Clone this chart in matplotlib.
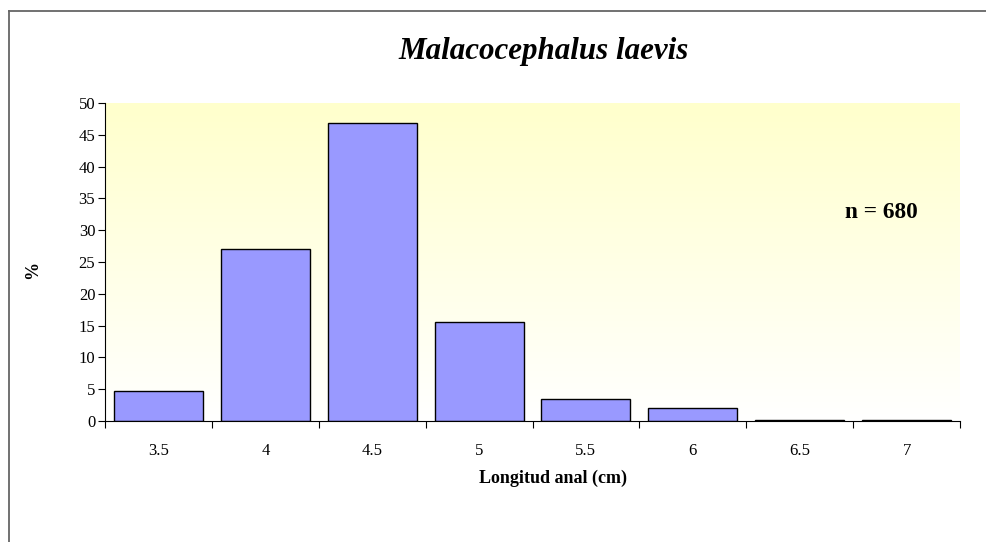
import numpy as np
import matplotlib.pyplot as plt
from matplotlib.lines import Line2D

categories = ["3.5", "4", "4.5", "5", "5.5", "6", "6.5", "7"]
percent = [4.7, 27.0, 46.9, 15.6, 3.4, 2.1, 0.15, 0.15]
y_ticks = [0, 5, 10, 15, 20, 25, 30, 35, 40, 45, 50]

plt.rcParams['font.family'] = ['Liberation Serif', 'DejaVu Serif']

W, H = 986, 542
fig = plt.figure(figsize=(W / 100, H / 100), dpi=100)
fig.patch.set_facecolor('white')

# frame edges of the chart area (left and top)
fig.add_artist(Line2D([8.5 / W, 8.5 / W], [0, 1 - 11 / H], transform=fig.transFigure,
                      color='#666666', linewidth=1.3))
fig.add_artist(Line2D([8.5 / W, 1], [1 - 11 / H, 1 - 11 / H], transform=fig.transFigure,
                      color='#666666', linewidth=1.3))

left, right, top, bottom = 105, 960, 103, 421
ax = fig.add_axes([left / W, 1 - bottom / H, (right - left) / W, (bottom - top) / H])

n = len(categories)
x = np.arange(n)
ax.set_xlim(-0.5, n - 0.5)
ax.set_ylim(0, 50)

# vertical gradient: pale yellow at top to white at bottom
grad = np.linspace(0, 1, 256).reshape(-1, 1)
top_col = np.array([1.0, 1.0, 0.80])
bot_col = np.array([1.0, 1.0, 1.0])
img = bot_col[None, None, :] * (1 - grad[..., None]) + top_col[None, None, :] * grad[..., None]
ax.imshow(img, extent=[-0.5, n - 0.5, 0, 50], origin='lower', aspect='auto', zorder=0)

ax.bar(x, percent, width=1 / 1.2, color='#9999FF', edgecolor='black', linewidth=1.0, zorder=2)

for s in ['top', 'right']:
    ax.spines[s].set_visible(False)
ax.spines['left'].set_linewidth(0.8)
ax.spines['bottom'].set_linewidth(0.8)

ax.set_yticks(y_ticks)
ax.set_yticklabels([str(v) for v in y_ticks], fontsize=12)
ax.set_xticks(np.arange(n + 1) - 0.5)
ax.set_xticklabels([])
ax.set_xticks(x, minor=True)
ax.set_xticklabels(categories, minor=True, fontsize=12)
ax.tick_params(axis='x', which='minor', length=0, pad=16)
ax.tick_params(axis='x', which='major', length=5, direction='out', width=0.8)
ax.tick_params(axis='y', length=5, direction='out', width=0.8, pad=2)

fig.text(544 / W, 1 - 52 / H, "Malacocephalus laevis", ha='center', va='center',
         fontsize=22.3, style='italic', fontweight='bold')
fig.text(881 / W, 1 - 212 / H, "n = 680", ha='center', va='center',
         fontsize=16.8, fontweight='bold')
fig.text(33 / W, 1 - 270 / H, "%", ha='center', va='center', rotation=90,
         fontsize=13, fontweight='bold')
fig.text(553 / W, 1 - 478 / H, "Longitud anal (cm)", ha='center', va='center',
         fontsize=13, fontweight='bold')

fig.savefig('out.png', dpi=100)
